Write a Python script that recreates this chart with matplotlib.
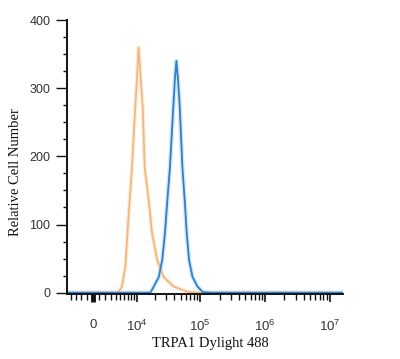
import numpy as np
import matplotlib
matplotlib.use("Agg")
import matplotlib.pyplot as plt
from matplotlib.ticker import FixedLocator, MultipleLocator

plt.rcParams['font.family'] = ['Liberation Sans', 'DejaVu Sans']
plt.rcParams['mathtext.fontset'] = 'custom'
plt.rcParams['mathtext.rm'] = 'Liberation Sans'
plt.rcParams['mathtext.it'] = 'Liberation Sans'

# ── data ──
# fluorescence intensity (TRPA1 Dylight 488) and relative cell number
ctrl_x = [-4800, 4500, 5400, 6300, 7200, 8300, 9500, 10280, 10800, 11460,
          12600, 13600, 15800, 17900, 21500, 27100, 38900, 64300, 102000,
          16000000]
ctrl_y = [0, 0, 9, 38, 110, 183, 274, 325, 360, 325,
          274, 183, 135, 86, 48, 23, 9, 1, 0,
          0]

trpa1_x = [-4800, 16800, 19000, 22800, 25800, 28400, 31000, 34000, 38500,
           40750, 42900, 45240, 48300, 53200, 57800, 62100, 67400, 76200,
           91100, 109000, 147000, 16000000]
trpa1_y = [0, 0, 9, 23, 48, 86, 135, 183, 274,
           315, 340, 315, 274, 183, 135, 86, 48, 23,
           9, 1, 0, 0]

x_major = [0, 1e4, 1e5, 1e6, 1e7]
x_labels = ['0', '$10^{4}$', '$10^{5}$', '$10^{6}$', '$10^{7}$']

# biexponential-like display scale
W = 2240.0
def fwd(v):
    return np.arcsinh(np.asarray(v) / (2 * W)) / np.log(10) + np.log10(W)

def inv(p):
    return 2 * W * np.sinh((np.asarray(p) - np.log10(W)) * np.log(10))

fig = plt.figure(figsize=(4.0, 3.59), dpi=100)
ax = fig.add_axes([0.1675, 0.181, 0.69, 0.763])
ax.set_xscale('function', functions=(fwd, inv))

# light halo + line
ax.plot(ctrl_x, ctrl_y, color='#fcebd8', lw=3.0, solid_joinstyle='round')
ax.plot(trpa1_x, trpa1_y, color='#d5e8f7', lw=3.2, solid_joinstyle='round')
ax.plot(ctrl_x, ctrl_y, color='#f0b67c', lw=1.2)
ax.plot(trpa1_x, trpa1_y, color='#2f7fcf', lw=1.3)

ax.set_xlim(-4800, 1.6e7)
ax.set_ylim(-2, 400)

for s in ['top', 'right']:
    ax.spines[s].set_visible(False)
for s in ['left', 'bottom']:
    ax.spines[s].set_linewidth(1.4)
    ax.spines[s].set_color('#111111')

# x ticks
ax.xaxis.set_major_locator(FixedLocator(x_major))
ax.set_xticklabels(x_labels)
minor = [-k * 1000 for k in range(1, 5)] + [k * 1000 for k in range(1, 10)]
for n in (4, 5, 6):
    minor += [k * 10 ** n for k in range(2, 10)]
ax.xaxis.set_minor_locator(FixedLocator(minor))
ax.tick_params(axis='x', which='major', length=6, width=1.2, pad=12,
               labelsize=9.5, colors='#111111', labelcolor='#333333')
ax.tick_params(axis='x', which='minor', length=4, width=1.0, colors='#111111')
ax.get_xticklines()[0].set_markeredgewidth(3.5)

# y ticks
ax.yaxis.set_major_locator(MultipleLocator(100))
ax.yaxis.set_minor_locator(MultipleLocator(25))
ax.tick_params(axis='y', which='major', length=8, width=1.0, pad=4,
               labelsize=9, colors='#111111', labelcolor='#333333')
ax.tick_params(axis='y', which='minor', length=3, width=1.0, colors='#111111')

fig.text(210 / 400, 1 - 343 / 359, 'TRPA1 Dylight 488', family='Liberation Serif',
         fontsize=10.5, ha='center', va='center', color='#111111')
fig.text(16 / 400, 1 - 172 / 359, 'Relative Cell Number', family='Liberation Serif',
         fontsize=10.5, ha='center', va='center', rotation=90, color='#111111')

fig.savefig('out.png', dpi=100)
